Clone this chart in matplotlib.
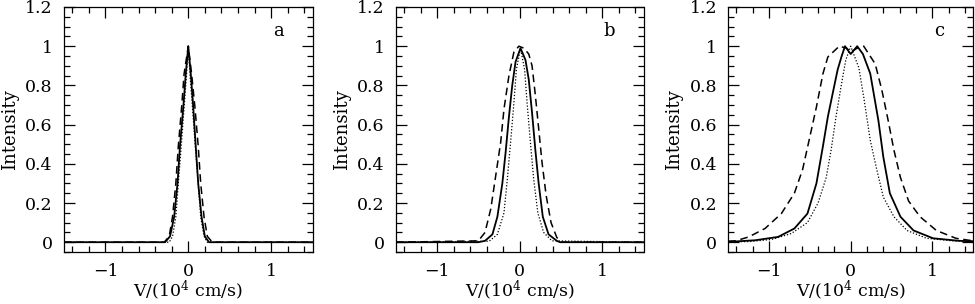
import matplotlib
matplotlib.use("Agg")
import matplotlib.pyplot as plt
from matplotlib.ticker import MultipleLocator

plt.rcParams["font.family"] = "DejaVu Serif"
plt.rcParams["mathtext.fontset"] = "dejavuserif"

# panel a
a_solid_x = [-1.5, -0.28, -0.22, -0.17, -0.13, -0.10, -0.06, -0.03, 0.0, 0.03, 0.06, 0.09, 0.12, 0.16, 0.20, 0.25, 1.5]
a_solid_y = [0.0, 0.0, 0.03, 0.13, 0.30, 0.49, 0.69, 0.86, 1.0, 0.86, 0.69, 0.49, 0.30, 0.13, 0.03, 0.0, 0.0]
a_dash_x = [-1.5, -0.29, -0.23, -0.19, -0.15, -0.12, -0.08, -0.05, 0.0, 0.04, 0.08, 0.12, 0.15, 0.19, 0.23, 0.29, 1.5]
a_dash_y = [0.0, 0.0, 0.03, 0.13, 0.30, 0.49, 0.69, 0.86, 1.0, 0.86, 0.69, 0.49, 0.30, 0.13, 0.03, 0.0, 0.0]
a_dot_x = [-1.5, -0.23, -0.19, -0.15, -0.12, -0.085, -0.05, -0.02, 0.0, 0.02, 0.05, 0.085, 0.12, 0.15, 0.19, 0.23, 1.5]
a_dot_y = [0.0, 0.0, 0.03, 0.13, 0.30, 0.49, 0.69, 0.86, 1.0, 0.86, 0.69, 0.49, 0.30, 0.13, 0.03, 0.0, 0.0]

# panel b
b_solid_x = [-1.5, -0.50, -0.42, -0.33, -0.27, -0.21, -0.17, -0.13, -0.09, -0.05, 0.01, 0.07, 0.11, 0.15, 0.19, 0.23, 0.28, 0.35, 0.45, 0.49, 1.5]
b_solid_y = [0.0, 0.0, 0.007, 0.04, 0.13, 0.30, 0.46, 0.64, 0.80, 0.92, 0.99, 0.93, 0.83, 0.66, 0.47, 0.30, 0.13, 0.04, 0.007, 0.0, 0.0]
b_dash_x = [-1.5, -0.50, -0.42, -0.35, -0.29, -0.23, -0.19, -0.13, -0.07, -0.01, 0.05, 0.11, 0.15, 0.19, 0.23, 0.27, 0.32, 0.38, 0.45, 0.51, 1.5]
b_dash_y = [0.0, 0.007, 0.05, 0.17, 0.34, 0.51, 0.68, 0.85, 0.97, 1.0, 0.99, 0.96, 0.90, 0.75, 0.58, 0.41, 0.24, 0.10, 0.024, 0.0, 0.0]
b_dot_x = [-1.5, -0.37, -0.27, -0.19, -0.15, -0.11, -0.07, -0.04, 0.01, 0.06, 0.09, 0.13, 0.17, 0.22, 0.29, 0.39, 1.5]
b_dot_y = [0.0, 0.005, 0.04, 0.15, 0.32, 0.51, 0.71, 0.88, 0.99, 0.88, 0.71, 0.51, 0.32, 0.15, 0.05, 0.007, 0.0]

# panel c
c_solid_x = [-1.5, -1.41, -1.17, -0.89, -0.69, -0.53, -0.42, -0.34, -0.28, -0.16, -0.11, -0.07, 0.0, 0.08, 0.15, 0.24, 0.34, 0.40, 0.48, 0.61, 0.77, 1.01, 1.33, 1.5]
c_solid_y = [0.003, 0.004, 0.01, 0.027, 0.07, 0.146, 0.30, 0.49, 0.64, 0.88, 0.95, 1.0, 0.96, 1.0, 0.96, 0.86, 0.62, 0.435, 0.25, 0.13, 0.06, 0.02, 0.007, 0.005]
c_dash_x = [-1.5, -1.41, -1.25, -1.05, -0.85, -0.69, -0.59, -0.51, -0.42, -0.34, -0.28, -0.14, -0.05, 0.0, 0.08, 0.16, 0.30, 0.38, 0.46, 0.53, 0.61, 0.71, 0.85, 1.05, 1.29, 1.5]
c_dash_y = [0.005, 0.007, 0.027, 0.07, 0.146, 0.25, 0.37, 0.52, 0.69, 0.86, 0.945, 1.0, 0.99, 0.97, 0.99, 1.0, 0.91, 0.78, 0.62, 0.47, 0.33, 0.21, 0.13, 0.06, 0.02, 0.007]
c_dot_x = [-1.5, -1.25, -0.97, -0.73, -0.53, -0.40, -0.30, -0.24, -0.18, -0.12, -0.06, 0.0, 0.10, 0.16, 0.24, 0.32, 0.40, 0.53, 0.69, 0.93, 1.25, 1.5]
c_dot_y = [0.002, 0.003, 0.014, 0.044, 0.10, 0.20, 0.33, 0.47, 0.64, 0.79, 0.93, 1.0, 0.89, 0.74, 0.52, 0.37, 0.23, 0.13, 0.06, 0.02, 0.007, 0.004]

panel_labels = ["a", "b", "c"]
ytick_vals = [0, 0.2, 0.4, 0.6, 0.8, 1.0, 1.2]
ytick_labels = ["0", "0.2", "0.4", "0.6", "0.8", "1", "1.2"]
xtick_vals = [-1, 0, 1]
xtick_labels = ["\u22121", "0", "1"]

curves = [
    ((a_solid_x, a_solid_y), (a_dash_x, a_dash_y), (a_dot_x, a_dot_y)),
    ((b_solid_x, b_solid_y), (b_dash_x, b_dash_y), (b_dot_x, b_dot_y)),
    ((c_solid_x, c_solid_y), (c_dash_x, c_dash_y), (c_dot_x, c_dot_y)),
]

# axes rectangles in figure fraction (left, bottom, width, height)
rects = [[0.0656, 0.171, 0.255, 0.806],
         [0.406, 0.171, 0.254, 0.806],
         [0.747, 0.171, 0.251, 0.806]]

fig = plt.figure(figsize=(9.75, 3.04), dpi=100)

for rect, lab, (solid, dash, dot) in zip(rects, panel_labels, curves):
    ax = fig.add_axes(rect)
    ax.plot(*solid, color="black", lw=1.3)
    ax.plot(*dash, color="black", lw=1.1, dashes=(5, 3))
    ax.plot(*dot, color="black", lw=0.9, ls=(0, (1, 1.5)))
    ax.set_xlim(-1.5, 1.5)
    ax.set_ylim(-0.05, 1.2)
    ax.xaxis.set_minor_locator(MultipleLocator(0.2))
    ax.yaxis.set_minor_locator(MultipleLocator(0.05))
    ax.set_yticks(ytick_vals)
    ax.set_yticklabels(ytick_labels)
    ax.set_xticks(xtick_vals)
    ax.set_xticklabels(xtick_labels)
    ax.tick_params(which="both", direction="in", top=True, right=True, labelsize=12.5, width=0.9)
    ax.tick_params(which="major", length=8)
    ax.tick_params(which="minor", length=4.3)
    ax.tick_params(axis="y", pad=8)
    ax.tick_params(axis="x", pad=8)
    for s in ax.spines.values():
        s.set_linewidth(0.9)

    w_px = rect[2] * 975
    h_px = rect[3] * 304
    ax.set_xlabel(r"V/(10$^4$ cm/s)", fontsize=12.5)
    ax.xaxis.set_label_coords(0.5, -27 / h_px)
    ax.set_ylabel("Intensity", fontsize=13)
    ax.yaxis.label.set_verticalalignment("center")
    ax.yaxis.set_label_coords(-54 / w_px, 0.5)
    ax.text(0.862, 1.077, lab, transform=ax.get_yaxis_transform(),
            fontsize=13, ha="center", va="center")

fig.savefig("out.png", dpi=100)
